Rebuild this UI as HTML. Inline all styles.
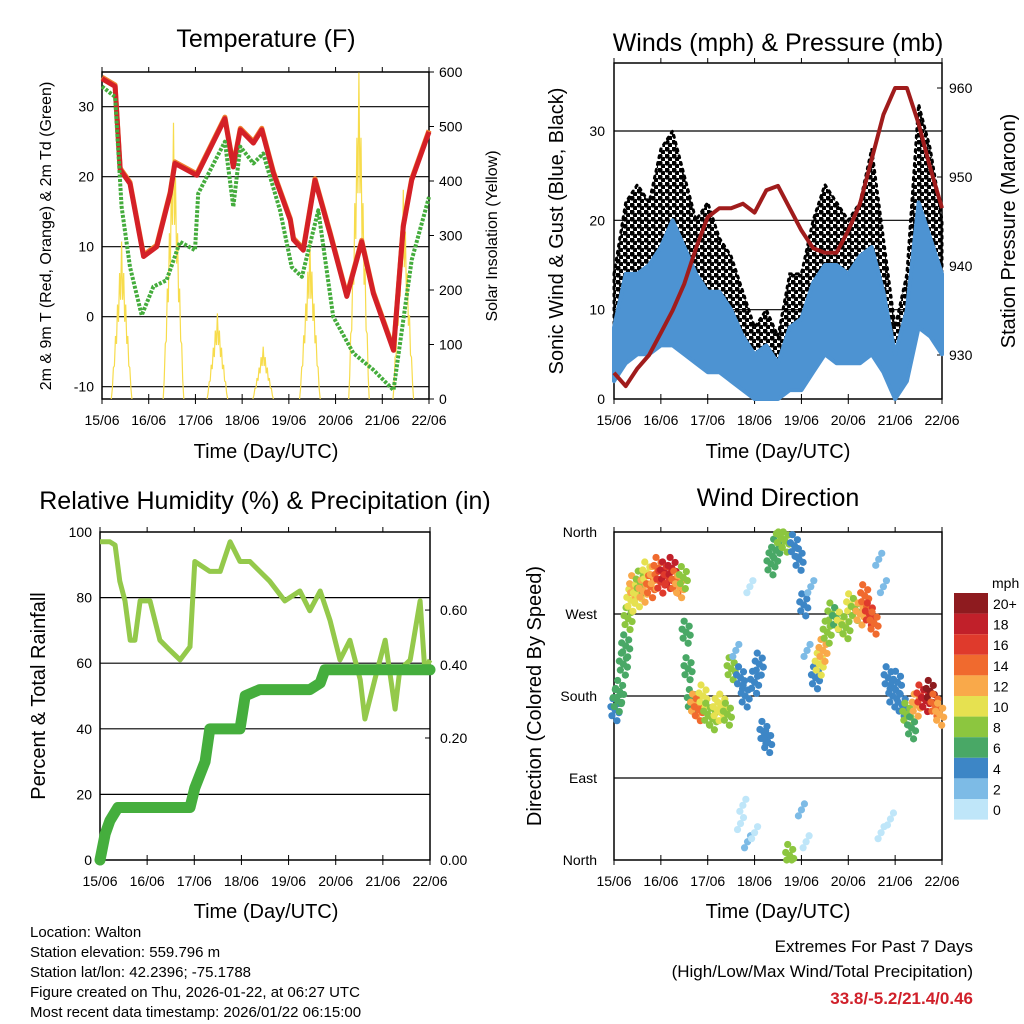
<!DOCTYPE html>
<html><head><meta charset="utf-8"><style>
html,body{margin:0;padding:0;background:#fff}
svg{display:block;font-family:"Liberation Sans",sans-serif}
</style></head><body>
<svg id="chart" width="1024" height="1024" viewBox="0 0 1024 1024" xmlns="http://www.w3.org/2000/svg">
<defs>
<pattern id="gustDots" width="7" height="7" patternUnits="userSpaceOnUse">
<circle cx="2" cy="2" r="2.6" fill="#000"/>
<circle cx="5.5" cy="5.5" r="2.6" fill="#000"/>
</pattern>
</defs>
<rect x="0" y="0" width="1024" height="1024" fill="#fff"/>
<text x="266" y="47" font-size="25" text-anchor="middle">Temperature (F)</text>
<text x="778" y="51" font-size="25" text-anchor="middle">Winds (mph) &amp; Pressure (mb)</text>
<text x="265" y="509" font-size="25" text-anchor="middle">Relative Humidity (%) &amp; Precipitation (in)</text>
<text x="778" y="506" font-size="25" text-anchor="middle">Wind Direction</text>
<text x="266" y="458" font-size="20" text-anchor="middle">Time (Day/UTC)</text>
<text x="778" y="458" font-size="20" text-anchor="middle">Time (Day/UTC)</text>
<text x="266" y="918" font-size="20" text-anchor="middle">Time (Day/UTC)</text>
<text x="778" y="918" font-size="20" text-anchor="middle">Time (Day/UTC)</text>
<text transform="translate(51,236) rotate(-90)" font-size="16" text-anchor="middle">2m &amp; 9m T (Red, Orange) &amp; 2m Td (Green)</text>
<text transform="translate(497,236) rotate(-90)" font-size="16" text-anchor="middle">Solar Insolation (Yellow)</text>
<text transform="translate(563,231) rotate(-90)" font-size="20" text-anchor="middle">Sonic Wind &amp; Gust (Blue, Black)</text>
<text transform="translate(1015,231) rotate(-90)" font-size="20" text-anchor="middle">Station Pressure (Maroon)</text>
<text transform="translate(45,696) rotate(-90)" font-size="20" text-anchor="middle">Percent &amp; Total Rainfall</text>
<text transform="translate(541,696) rotate(-90)" font-size="20" text-anchor="middle">Direction (Colored By Speed)</text>
<g font-size="15">
<text x="30" y="937">Location: Walton</text>
<text x="30" y="957">Station elevation: 559.796 m</text>
<text x="30" y="977">Station lat/lon: 42.2396; -75.1788</text>
<text x="30" y="997">Figure created on Thu, 2026-01-22, at 06:27 UTC</text>
<text x="30" y="1017">Most recent data timestamp: 2026/01/22 06:15:00</text>
</g>
<text x="973" y="952" font-size="17" text-anchor="end">Extremes For Past 7 Days</text>
<text x="973" y="977" font-size="17" text-anchor="end">(High/Low/Max Wind/Total Precipitation)</text>
<text x="973" y="1004" font-size="17" font-weight="bold" fill="#d0202a" text-anchor="end">33.8/-5.2/21.4/0.46</text>
<g id="marks"></g>
</svg>
<script>
// ---------- DATA ----------
const dayLabels = ["15/06","16/06","17/06","18/06","19/06","20/06","21/06","22/06"];
const tempTimes = [0,.28,.39,.6,.89,1.17,1.46,1.56,2.03,2.63,2.81,2.96,3.24,3.42,3.67,4.03,4.1,4.31,4.56,4.88,5.24,5.56,5.81,6.24,6.45,6.63,7];
const temp2m = [34,32.9,21,19,8.6,10,17.6,21.9,20.2,28.3,21.4,26.7,24.8,26.7,20.5,13.8,11,9.5,19.5,11.9,2.9,10.7,3.3,-4.8,12.9,19.5,26.4];
const dewTimes = [0,.28,.42,.6,.85,1.1,1.38,1.67,1.99,2.06,2.63,2.81,2.96,3.24,3.45,3.81,4.06,4.28,4.63,4.95,5.38,5.81,6.24,6.63,7];
const dew2m = [32.9,31.4,15.7,7.1,0.2,4.3,5.2,10.7,9.5,17.6,25,15.7,24.3,21.9,23.3,15.2,7.1,5.7,15.2,0,-5.2,-7.6,-10.5,8.1,17.1];
const solarCenters = [0.42,1.53,2.47,3.45,4.45,5.5,6.45];
const solarPeaks = [289,507,157,96,292,599,384];
const tempTicks = [-10,0,10,20,30];
const solarTicks = [0,100,200,300,400,500,600];
const windTimes = [0,.25,.5,.75,1,1.25,1.5,1.75,2,2.25,2.5,2.75,3,3.25,3.5,3.75,4,4.25,4.5,4.75,5,5.25,5.5,5.75,6,6.25,6.5,6.75,7];
const windLow = [2,4,5,5,6,6,5,4,3,3,2,1,0,0,0,1,1,3,5,4,4,4,5,3,0,2,8,7,5];
const windHigh = [8,14,14,15,17,20,17,14,12,12,10,7,5,6,4,8,9,13,15,15,14,16,17,12,5,10,22,18,14];
const gustHigh = [14,22,24,22,28,30,25,20,22,18,16,12,8,10,7,14,14,20,24,22,20,22,28,18,8,14,33,28,20];
const pressure = [928,926.5,928.5,930,932.5,935,938,942,945.5,946.5,946.5,947,946,948.5,949,946.5,944,942,941.5,941.5,944,947,952,957,960,960,956,951,946.5];
const windTicks = [0,10,20,30];
const pressTicks = [930,940,950,960];
const rhTimes = [0,.21,.32,.42,.53,.64,.74,.85,1.06,1.27,1.48,1.7,1.91,2.01,2.33,2.55,2.76,2.97,3.18,3.39,3.6,3.92,4.24,4.45,4.67,4.88,5.09,5.3,5.52,5.62,5.83,6.05,6.26,6.36,6.58,6.79,6.89,7];
const rhValues = [97,97,96,85,79,67,67,79,79,67,64,61,65,91,88,88,97,91,91,88,85,79,82,76,82,73,61,67,55,43,55,67,46,58,61,79,58,61];
const precipTimes = [0,.11,.21,.38,1.91,2.01,2.23,2.33,2.97,3.08,3.39,4.45,4.67,4.77,7];
const precipInches = [0,.063,.095,.127,.127,.174,.238,.317,.317,.397,.412,.412,.428,.46,.46];
const rhTicks = [0,20,40,60,80,100];
const precipTickLabels = ["0.00","0.20","0.40","0.60"];
const precipTickPct = [0,37.2,59.5,76.2];
const dirTimes = [0.02,0.07,0.12,0.2,0.25,0.3,0.36,0.42,0.5,0.56,0.62,0.7,0.78,0.86,0.94,1.0,1.08,1.16,1.24,1.32,1.4,1.48,1.54,1.58,1.65,1.72,1.8,1.9,2.0,2.1,2.2,2.3,2.42,2.5,2.6,2.7,2.8,2.9,3.0,3.1,3.2,3.28,3.35,3.45,3.55,3.65,3.75,3.85,3.95,4.05,4.12,4.2,4.3,4.38,4.46,4.55,4.65,4.75,4.85,4.95,5.05,5.15,5.25,5.35,5.45,5.55,5.65,5.75,5.85,5.95,6.05,6.15,6.25,6.35,6.45,6.55,6.65,6.75,6.85,6.95,2.7,2.85,3.0,4.0,4.1,5.7,5.9,2.75];
const dirDegrees = [165,175,185,215,235,265,285,300,290,305,295,315,300,310,320,305,315,310,320,305,300,310,250,210,175,170,165,180,160,155,165,170,160,210,230,200,180,300,195,215,140,130,325,340,355,350,5,345,330,280,230,300,200,215,230,250,270,265,260,255,280,275,270,290,270,260,330,300,200,180,195,170,160,145,170,180,175,185,170,160,40,20,30,55,20,30,45,60];
const dirSpeeds = [4,6,6,6,6,8,10,12,10,8,12,10,14,12,14,16,18,16,18,14,12,8,6,6,6,12,14,10,8,8,10,10,8,8,2,4,4,0,4,3,4,3,6,6,8,7,8,4,4,3,2,2,4,10,12,8,8,6,10,8,10,8,12,14,16,14,2,2,4,4,4,4,8,6,12,16,18,20,14,12,0,2,0,2,0,0,0,0];
const dirLabels = ["North","East","South","West","North"];
const speedLabels = ["20+","18","16","14","12","10","8","6","4","2","0"];
const speedColors = ["#8e1b1f","#c1202a","#df3a2c","#f06a2e","#f9a94a","#e6e150","#8cc63f","#49a866","#3d86c6","#7dbbe6","#bfe6f9"];

// ---------- AXES ----------
const NS = "http://www.w3.org/2000/svg";
const root = document.getElementById('marks');
function mk(tag, attrs, parent) {
  const e = document.createElementNS(NS, tag);
  for (const k in attrs) e.setAttribute(k, attrs[k]);
  (parent || root).appendChild(e);
  return e;
}
function lin(d0, d1, r0, r1) { return v => r0 + (v - d0) * (r1 - r0) / (d1 - d0); }
function pts(ts, vs, fx, fy) { return ts.map((t, i) => fx(t).toFixed(1) + "," + fy(vs[i]).toFixed(1)).join(" "); }

const P1 = {x0:102, x1:429, y0:72, y1:399};
const P2 = {x0:614, x1:942, y0:63, y1:399};
const P3 = {x0:100, x1:430, y0:532, y1:860};
const P4 = {x0:614, x1:942, y0:532, y1:860};
const x1 = lin(0,7,P1.x0,P1.x1), x2 = lin(0,7,P2.x0,P2.x1), x3 = lin(0,7,P3.x0,P3.x1), x4 = lin(0,7,P4.x0,P4.x1);
const yT = lin(-10,30,386.7,106.7), yS = lin(0,600,399,72);
const yW = lin(0,30,399,131), yP = lin(930,960,355,88);
const yR = lin(0,100,860,532);
const yPrecip = v => yR(v * 58 / 0.46);
const yD = lin(0,360,860,532);

function gridAndFrame(P, xs, name) {
  const g = mk('g', {});
  
  
  const fr = mk('rect', {x:P.x0, y:P.y0, width:P.x1-P.x0, height:P.y1-P.y0, fill:'none', stroke:'#000', 'stroke-width':1.5}, g);
  
  
  dayLabels.forEach((lab, i) => {
    const x = xs(i);
    const tk = mk('line', {x1:x, x2:x, y1:P.y1-5, y2:P.y1+5, stroke:'#000', 'stroke-width':1}, g);
    
    
    const tk2 = mk('line', {x1:x, x2:x, y1:P.y0, y2:P.y0-5, stroke:'#000', 'stroke-width':1}, g);
    
    
    const t = mk('text', {x:x, y:P.y1+26, 'font-size':14, 'text-anchor':'middle'}, g);
    t.textContent = lab;
    
    
  });
  return g;
}
function hline(g, P, y, name) {
  const l = mk('line', {x1:P.x0, x2:P.x1, y1:y, y2:y, stroke:'#000', 'stroke-width':1.2}, g);
  
  
}
function label(g, x, y, txt, anchor, name, size) {
  const t = mk('text', {x:x, y:y, 'font-size':size||14, 'text-anchor':anchor}, g);
  t.textContent = txt;
  
  
}

// ---------- PANEL 1 ----------
const g1 = gridAndFrame(P1, x1, 'temperature');
tempTicks.forEach(v => { hline(g1, P1, yT(v), 'temperature-gridline'); label(g1, P1.x0-8, yT(v)+5, String(v), 'end', 'temperature-y-tick-label'); });
solarTicks.forEach(v => { label(g1, P1.x1+10, yS(v)+5, String(v), 'start', 'solar-y-tick-label');
  const tk = mk('line', {x1:P1.x1, x2:P1.x1+5, y1:yS(v), y2:yS(v), stroke:'#000'}, g1);
    });
solarCenters.forEach((c, i) => {
  const s = [];
  for (let k = -10; k <= 10; k++) {
    const t = c + k * 0.022;
    const shape = Math.max(0, 1 - Math.abs(k) / 10);
    const v = solarPeaks[i] * shape * (k % 2 === 0 ? 1 : 0.7);
    s.push(x1(t).toFixed(1) + "," + yS(v).toFixed(1));
  }
  const p = mk('polyline', {points:s.join(" "), fill:'none', stroke:'#f7dc4c', 'stroke-width':1.2});
  
  
});
const orange = mk('polyline', {points:pts(tempTimes, temp2m, x1, v => yT(v) - 1.5), fill:'none', stroke:'#f08030', 'stroke-width':5, 'stroke-linejoin':'round'});


const red = mk('polyline', {points:pts(tempTimes, temp2m, x1, yT), fill:'none', stroke:'#d42027', 'stroke-width':5, 'stroke-linejoin':'round'});


const green = mk('polyline', {points:pts(dewTimes, dew2m, x1, yT), fill:'none', stroke:'#44ac3c', 'stroke-width':4, 'stroke-dasharray':'3 1.5', 'stroke-linejoin':'round'});



// ---------- PANEL 2 ----------
const g2 = gridAndFrame(P2, x2, 'winds');
windTicks.forEach(v => { if (v > 0) hline(g2, P2, yW(v), 'winds-gridline'); label(g2, P2.x0-9, yW(v)+5, String(v), 'end', 'winds-y-tick-label'); });
pressTicks.forEach(v => { label(g2, P2.x1+7, yP(v)+5, String(v), 'start', 'pressure-y-tick-label');
  const tk = mk('line', {x1:P2.x1, x2:P2.x1-5, y1:yP(v), y2:yP(v), stroke:'#000'}, g2);
    });
function band(ts, lo, hi, fx, fy) {
  const up = ts.map((t, i) => fx(t).toFixed(1) + "," + fy(hi[i]).toFixed(1));
  const dn = ts.map((t, i) => fx(t).toFixed(1) + "," + fy(lo[i]).toFixed(1)).reverse();
  return up.concat(dn).join(" ");
}
const gustBand = mk('polygon', {points:band(windTimes, windLow, gustHigh, x2, yW), fill:'url(#gustDots)', stroke:'#000', 'stroke-width':3, 'stroke-dasharray':'2 5', 'stroke-linecap':'round'});


const windBand = mk('polygon', {points:band(windTimes, windLow, windHigh, x2, yW), fill:'#4d93d2', stroke:'#4d93d2', 'stroke-width':4, 'stroke-linejoin':'round'});


const press = mk('polyline', {points:pts(windTimes, pressure, x2, yP), fill:'none', stroke:'#a01c1c', 'stroke-width':4, 'stroke-linejoin':'round'});



// ---------- PANEL 3 ----------
const g3 = gridAndFrame(P3, x3, 'humidity');
rhTicks.forEach(v => { if (v > 0 && v < 100) hline(g3, P3, yR(v), 'humidity-gridline'); label(g3, P3.x0-8, yR(v)+5, String(v), 'end', 'humidity-y-tick-label'); });
precipTickLabels.forEach((lab, i) => { label(g3, P3.x1+10, yR(precipTickPct[i])+5, lab, 'start', 'precip-y-tick-label');
  const tk = mk('line', {x1:P3.x1, x2:P3.x1-5, y1:yR(precipTickPct[i]), y2:yR(precipTickPct[i]), stroke:'#000'}, g3);
    });
const rh = mk('polyline', {points:pts(rhTimes, rhValues, x3, yR), fill:'none', stroke:'#94c94b', 'stroke-width':5, 'stroke-linejoin':'round'});


const pr = mk('polyline', {points:pts(precipTimes, precipInches, x3, yPrecip), fill:'none', stroke:'#45ae3d', 'stroke-width':11, 'stroke-linejoin':'round', 'stroke-linecap':'round'});



// ---------- PANEL 4 ----------
const g4 = gridAndFrame(P4, x4, 'direction');
dirLabels.forEach((lab, i) => { const v = i * 90; if (i > 0 && i < 4) hline(g4, P4, yD(v), 'direction-gridline');
  label(g4, P4.x0-17, yD(v)+5, lab, 'end', 'direction-y-tick-label'); });
function speedColor(s) { const idx = Math.min(10, Math.round(s / 2)); return speedColors[10 - idx]; }
const jitter = [[0,0],[3,-6],[-3,6],[2,11],[-2,-11],[4,3],[-4,-3]];
dirTimes.forEach((t, i) => {
  const cx = x4(t), cy = yD(dirDegrees[i]);
  const n = dirSpeeds[i] <= 2 ? 3 : jitter.length;
  for (let k = 0; k < n; k++) {
    const c = mk('circle', {cx:cx + jitter[k][0], cy:Math.min(P4.y1, Math.max(P4.y0, cy + jitter[k][1])), r:3.6, fill:speedColor(dirSpeeds[i])});
    
    
  }
});
const cb = mk('g', {});


label(cb, 992, 588, 'mph', 'start', 'colorbar-unit-label', 14);
speedColors.forEach((col, i) => {
  const y = 593 + i * 20.6;
  const r = mk('rect', {x:954, y:y, width:34, height:20.6, fill:col}, cb);
  
  
  label(cb, 993, y + 16, speedLabels[i], 'start', 'colorbar-label', 14);
});
</script>
</body></html>
